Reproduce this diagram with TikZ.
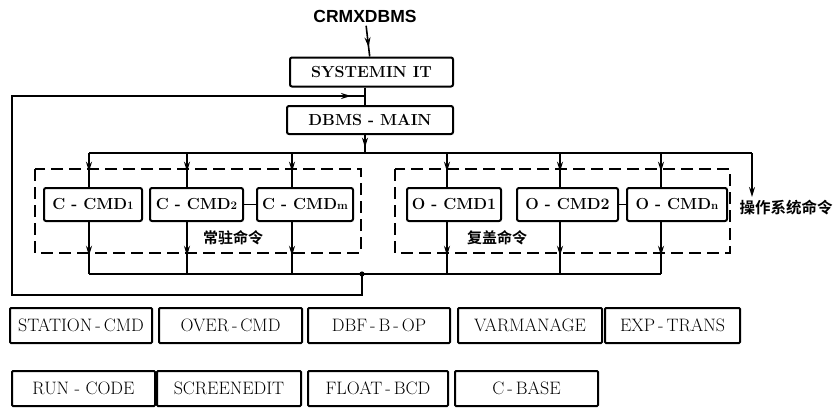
\documentclass[tikz,border=0pt]{standalone}
\usepackage{fontspec}
\usetikzlibrary{arrows.meta,decorations.markings}
\newfontfamily\cjkfont{Noto Sans CJK SC Bold}
\newfontfamily\headfont{Liberation Sans}
\newcommand\idx[1]{{\fontsize{11.5}{12}\selectfont #1}}

\begin{document}
\begin{tikzpicture}[
  x=1pt,y=-1pt,
  box/.style={draw,line width=2pt,rounded corners=2pt,inner sep=0pt,font=\fontsize{16}{16}\selectfont\bfseries},
  lib/.style={draw,line width=2pt,rounded corners=1pt,inner sep=0pt,minimum height=35pt,font=\fontsize{18}{18}\selectfont},
  dashbox/.style={line width=1.6pt,dash pattern=on 12pt off 6pt},
  wire/.style={line width=1.6pt},
  tip/.style={-{Stealth[length=10pt,width=6pt]}},
  arr/.style={postaction={decorate},decoration={markings,mark=at position #1 with {\arrow{Stealth[length=10pt,width=6pt]}}}},
  cjk/.style={font=\cjkfont\fontsize{15}{15}\selectfont}
]
  \useasboundingbox (0,0) rectangle (835,407);

  \node[font=\headfont\bfseries\fontsize{17.5}{18}\selectfont] (title) at (365,16) {CRMXDBMS};
  \node[box,minimum width=163pt,minimum height=29pt] (sys) at (371.5,72) {SYSTEMIN IT};
  \node[box,minimum width=166pt,minimum height=28pt] (main) at (370,120) {DBMS - MAIN};

  % command boxes
  \foreach \n/\x/\w/\t in {c1/93/98/{C - CMD\idx{1}},c2/196.5/93/{C - CMD\idx{2}},cm/305/96/{C - CMD\idx{m}},
                           o1/454/94/{O - CMD1},o2/567.5/101/{O - CMD2},on/677/100/{O - CMD\idx{n}}}
    \node[box,minimum width=\w pt,minimum height=33pt] (\n) at (\x,204.5) {\t};

  \draw[dashbox] (35,169) rectangle (361,253);
  \draw[dashbox] (395,169) rectangle (730,253);
  \node[cjk] (res) at (233,238) {常驻命令};
  \node[cjk] (ovl) at (497,238) {复盖命令};
  \node[cjk,font=\cjkfont\fontsize{15.5}{16}\selectfont] (oscmd) at (786,208) {操作系统命令};

  % library modules
  \foreach \n/\x/\y/\w/\t in {st/81/325.5/142/{STATION\,-\,CMD},ov/230.5/325.5/143/{OVER\,-\,CMD},
                              dbf/379/325.5/142/{DBF\,-\,B\,-\,OP},var/530/325.5/144/{VARMANAGE},
                              exp/672.5/325.5/135/{EXP\,-\,TRANS},run/83.5/388.5/143/{RUN - CODE},
                              scr/229/388.5/144/{SCREENEDIT},flt/378/388.5/140/{FLOAT\,-\,BCD},
                              cb/526.5/388.5/143/{C\,-\,BASE}}
    \node[lib,minimum width=\w pt] (\n) at (\x,\y) {\t};

  \coordinate (join) at (365,96);
  \coordinate (tmain) at (365,153);
  \coordinate (tleft) at (89,153);
  \coordinate (tright) at (752,153);
  \coordinate (bleft) at (89,274);
  \coordinate (bright) at (661,274);
  \coordinate (fork) at (362,274);
  \coordinate (lowleft) at (12,295);

  \draw[wire,arr=.7] (title) -- (sys);
  \draw[wire] (join |- sys.south) -- (join |- main.north);
  \draw[wire,arr=.7] (join |- main.south) -- (tmain);
  \draw[wire] (tleft) -- (tright);
  \draw[wire,tip] (tright) -- (tright |- oscmd.north);
  \draw[wire] (bleft) -- (bright);
  \foreach \n/\x in {c1/89,c2/187,cm/292,o1/447,o2/560,on/661} {
    \coordinate (t\n) at (\x,153);
    \coordinate (b\n) at (\x,274);
    \draw[wire,arr=.55] (t\n) -- (t\n |- \n.north);
    \draw[wire,arr=.65] (b\n |- \n.south) -- (b\n);
  }
  \draw[wire] (c2) -- (cm);
  \draw[wire] (o2) -- (on);

  \fill (fork) circle (2.6pt);
  \draw[wire,arr=-14pt] (fork) |- (lowleft) |- (join);
\end{tikzpicture}
\end{document}
